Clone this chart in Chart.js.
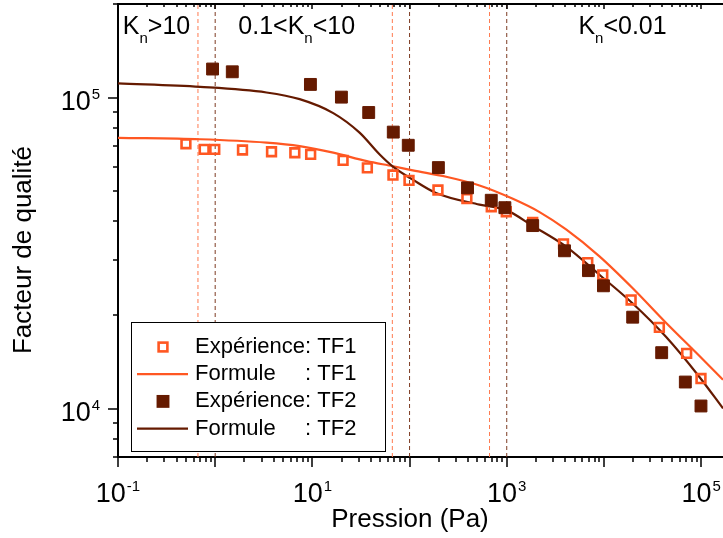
<!DOCTYPE html>
<html>
<head>
<meta charset="utf-8">
<script src="https://cdn.jsdelivr.net/npm/chart.js@4.4.1/dist/chart.umd.min.js"></script>
<style>
  html, body { margin: 0; padding: 0; background: #fff; }
  #wrap { width: 723px; height: 538px; overflow: hidden; }
</style>
</head>
<body>
<div id="wrap"><canvas id="qChart" width="723" height="538"></canvas></div>
<script>
// Points expérimentaux (pression en Pa -> facteur de qualité)
const pressionTF1 = [0.50, 0.77, 0.99, 1.91, 3.8, 6.6, 9.6, 20.7, 36.8, 67.5, 98.7, 196, 389, 693, 989, 1850, 3840, 6820, 9730, 19050, 37200, 71000, 99700];
const qExpTF1 = [71100, 68200, 68200, 67900, 67000, 66500, 65700, 62900, 59500, 56400, 54200, 50500, 47400, 44600, 43000, 39700, 33900, 29500, 26950, 22380, 18270, 15070, 12510];

const pressionTF2 = [0.94, 1.50, 9.55, 19.9, 38, 68, 97, 198, 395, 693, 957, 1850, 3930, 6930, 9890, 19770, 39300, 68800, 99700];
const qExpTF2 = [123600, 121100, 110300, 100400, 89600, 77500, 70300, 59600, 51300, 46800, 44300, 38800, 32200, 27800, 24850, 19700, 15150, 12190, 10210];

// Courbes "Formule"
const pressionFormuleTF1 = [0.1, 0.7, 3.37, 7.4, 16.4, 36.3, 68, 108, 238, 525, 1156, 2200, 4080, 9000, 19800, 43500, 95700, 168000];
const qFormuleTF1 = [74300, 73500, 71700, 69900, 66600, 62500, 60200, 58400, 55700, 52200, 47300, 42800, 37700, 30900, 24400, 18900, 14800, 12400];

const pressionFormuleTF2 = [0.1, 0.7, 3.37, 7.4, 16.4, 30.6, 49, 68, 108, 187, 525, 990, 1850, 4080, 9000, 19800, 43500, 95700, 168000];
const qFormuleTF2 = [111100, 108300, 103900, 98900, 89200, 77200, 65800, 59900, 54500, 49400, 45300, 43500, 38700, 33200, 26970, 21800, 17040, 12680, 10030];

// Limites des régimes de Knudsen (traits pointillés)
const limitesTF1 = [0.665, 66.5, 665];
const limitesTF2 = [1, 100, 1000];

// Étiquettes des régimes
const regimeTextes = [['K', 'n', '>10'], ['0.1<K', 'n', '<10'], ['K', 'n', '<0.01']];
const regimePression = [0.112, 1.73, 5460];

// Axes
const xMin = 0.1, xMax = 168000;
const yMin = 7000, yMax = 200000;
const xLabelValues = [0.1, 10, 1000, 100000];
const xLabelExpos = ['-1', '1', '3', '5'];
const yLabelValues = [10000, 100000];
const yLabelExpos = ['4', '5'];
const titreX = 'Pression (Pa)';
const titreY = 'Facteur de qualité';

const ORANGE = '#ff5722';
const BRUN = '#651a00';
const FONT = '"Liberation Sans", Arial, sans-serif';

Chart.defaults.font.family = FONT;
Chart.defaults.color = '#000';

function toPoints(xs, ys) {
    return xs.map((x, i) => ({ x: x, y: ys[i] }));
}

// Graduations 1..9 x 10^n
function logTicks(min, max) {
    const ticks = [];
    for (let e = Math.floor(Math.log10(min)); e <= Math.ceil(Math.log10(max)); e++) {
        for (let m = 1; m <= 9; m++) {
            const v = m * Math.pow(10, e);
            if (v >= min * 0.999 && v <= max * 1.001) ticks.push({ value: v });
        }
    }
    return ticks;
}

function isDecade(v) {
    const l = Math.log10(v);
    return Math.abs(l - Math.round(l)) < 1e-6;
}

function limiteDataset(v, color) {
    return {
        type: 'line',
        data: [{ x: v, y: yMin }, { x: v, y: yMax }],
        borderColor: color,
        borderWidth: 1,
        borderDash: [4, 3],
        pointRadius: 0,
        order: 10
    };
}

const datasets = [
    {
        label: 'Expérience: TF1',
        data: toPoints(pressionTF1, qExpTF1),
        pointStyle: 'rect',
        pointRadius: 6.2,
        borderColor: ORANGE,
        backgroundColor: 'rgba(255,255,255,0)',
        borderWidth: 2.6,
        showLine: false,
        order: 2
    },
    {
        label: 'Formule : TF1',
        type: 'line',
        data: toPoints(pressionFormuleTF1, qFormuleTF1),
        borderColor: ORANGE,
        borderWidth: 2.2,
        pointRadius: 0,
        cubicInterpolationMode: 'monotone',
        order: 5
    },
    {
        label: 'Expérience: TF2',
        data: toPoints(pressionTF2, qExpTF2),
        pointStyle: 'rect',
        pointRadius: 8.4,
        borderColor: BRUN,
        backgroundColor: BRUN,
        borderWidth: 1,
        showLine: false,
        order: 1
    },
    {
        label: 'Formule : TF2',
        type: 'line',
        data: toPoints(pressionFormuleTF2, qFormuleTF2),
        borderColor: BRUN,
        borderWidth: 2.2,
        pointRadius: 0,
        cubicInterpolationMode: 'monotone',
        order: 4
    }
];
limitesTF1.forEach(v => datasets.push(limiteDataset(v, '#ff7a4f')));
limitesTF2.forEach(v => datasets.push(limiteDataset(v, '#7d3b22')));

// "10" + exposant ; ancre = centre (axe x) ou bord droit (axe y)
function drawPuissance(ctx, expo, anchorX, baseY, centered) {
    ctx.font = '27px ' + FONT;
    const wBase = ctx.measureText('10').width;
    ctx.font = '15px ' + FONT;
    const wExp = ctx.measureText(expo).width;
    const total = wBase + 1 + wExp;
    const left = centered ? anchorX - total / 2 : anchorX - total;
    ctx.font = '27px ' + FONT;
    ctx.fillText('10', left, baseY);
    ctx.font = '15px ' + FONT;
    ctx.fillText(expo, left + wBase + 1, baseY - 11);
}

// Graduations, libellés, cadre du haut, légende et étiquettes de régime
const decorPlugin = {
    id: 'decor',
    afterDraw(chart) {
        const { ctx, chartArea: ca, scales: { x, y } } = chart;
        ctx.save();
        ctx.strokeStyle = '#000';
        ctx.lineWidth = 1.5;
        ctx.beginPath();
        x.ticks.forEach(t => {
            const px = Math.round(x.getPixelForValue(t.value));
            const major = isDecade(t.value);
            ctx.moveTo(px, ca.bottom);
            ctx.lineTo(px, ca.bottom + (major ? 10 : 5));
            ctx.moveTo(px, ca.top);
            ctx.lineTo(px, ca.top + (major ? 5 : 3));
        });
        y.ticks.forEach(t => {
            const py = Math.round(y.getPixelForValue(t.value));
            const major = isDecade(t.value);
            ctx.moveTo(ca.left, py);
            ctx.lineTo(ca.left - (major ? 10 : 5), py);
        });
        ctx.stroke();

        // cadre supérieur
        ctx.lineWidth = 2;
        ctx.beginPath();
        ctx.moveTo(ca.left - 1, ca.top);
        ctx.lineTo(ca.right, ca.top);
        ctx.stroke();

        // libellés des graduations
        ctx.fillStyle = '#000';
        ctx.textBaseline = 'alphabetic';
        ctx.textAlign = 'left';
        xLabelValues.forEach((v, i) => {
            drawPuissance(ctx, xLabelExpos[i], x.getPixelForValue(v), ca.bottom + 45, true);
        });
        yLabelValues.forEach((v, i) => {
            drawPuissance(ctx, yLabelExpos[i], ca.left - 18, y.getPixelForValue(v) + 12, false);
        });

        // titres des axes
        ctx.font = '26px ' + FONT;
        ctx.textAlign = 'center';
        ctx.textBaseline = 'middle';
        ctx.fillText(titreX, 410, 520);
        ctx.save();
        ctx.translate(24, 250);
        ctx.rotate(-Math.PI / 2);
        ctx.fillText(titreY, 0, 0);
        ctx.restore();

        // étiquettes des régimes de Knudsen
        ctx.textBaseline = 'alphabetic';
        ctx.textAlign = 'left';
        regimeTextes.forEach((parts, i) => {
            let px = x.getPixelForValue(regimePression[i]);
            const base = ca.top + 30;
            ctx.font = '25px ' + FONT;
            ctx.fillText(parts[0], px, base);
            px += ctx.measureText(parts[0]).width;
            ctx.font = '15px ' + FONT;
            ctx.fillText(parts[1], px, base + 9);
            px += ctx.measureText(parts[1]).width;
            ctx.font = '25px ' + FONT;
            ctx.fillText(parts[2], px, base);
        });

        // légende
        const box = { left: ca.left + 13, top: 322, width: 254, height: 129 };
        ctx.fillStyle = '#fff';
        ctx.fillRect(box.left, box.top, box.width, box.height);
        ctx.strokeStyle = '#000';
        ctx.lineWidth = 1;
        ctx.strokeRect(box.left + 0.5, box.top + 0.5, box.width, box.height);

        ctx.font = '22px ' + FONT;
        ctx.textBaseline = 'middle';
        const items = chart.data.datasets.filter(d => d.label);
        const heads = items.map(d => d.label.split(':')[0].trim());
        const textX = box.left + 64;
        const colonX = textX + Math.max(...heads.map(h => ctx.measureText(h).width));
        items.forEach((d, i) => {
            const rowY = box.top + 25 + i * 27.2;
            if (d.showLine === false) {
                const side = d.pointRadius * Math.SQRT2;
                const cx = box.left + 32;
                if (d.backgroundColor === BRUN) {
                    ctx.fillStyle = d.backgroundColor;
                    ctx.fillRect(cx - side / 2 - 0.5, rowY - side / 2 - 0.5, side + 1, side + 1);
                } else {
                    ctx.strokeStyle = d.borderColor;
                    ctx.lineWidth = d.borderWidth;
                    ctx.strokeRect(cx - side / 2, rowY - side / 2, side, side);
                }
            } else {
                ctx.strokeStyle = d.borderColor;
                ctx.lineWidth = d.borderWidth;
                ctx.beginPath();
                ctx.moveTo(box.left + 6, rowY);
                ctx.lineTo(box.left + 57, rowY);
                ctx.stroke();
            }
            ctx.fillStyle = '#000';
            ctx.fillText(heads[i], textX, rowY);
            ctx.fillText(':' + d.label.split(':')[1], colonX, rowY);
        });
        ctx.restore();
    }
};

new Chart(document.getElementById('qChart'), {
    type: 'scatter',
    data: { datasets: datasets },
    options: {
        responsive: false,
        animation: false,
        devicePixelRatio: 1,
        layout: { autoPadding: false, padding: { top: 4, right: 0, left: 0, bottom: 0 } },
        plugins: {
            legend: { display: false },
            tooltip: { enabled: false }
        },
        scales: {
            x: {
                type: 'logarithmic',
                min: xMin,
                max: xMax,
                grid: { display: false, drawTicks: false },
                border: { display: true, color: '#000', width: 2 },
                afterBuildTicks: s => { s.ticks = logTicks(xMin, xMax); },
                afterFit: s => { s.height = 81; s.paddingLeft = 0; s.paddingRight = 0; },
                ticks: { display: false, autoSkip: false }
            },
            y: {
                type: 'logarithmic',
                min: yMin,
                max: yMax,
                grid: { display: false, drawTicks: false },
                border: { display: true, color: '#000', width: 2 },
                afterBuildTicks: s => { s.ticks = logTicks(yMin, yMax); },
                afterFit: s => { s.width = 118; s.paddingTop = 0; s.paddingBottom = 0; },
                ticks: { display: false, autoSkip: false }
            }
        }
    },
    plugins: [decorPlugin]
});
</script>
</body>
</html>
